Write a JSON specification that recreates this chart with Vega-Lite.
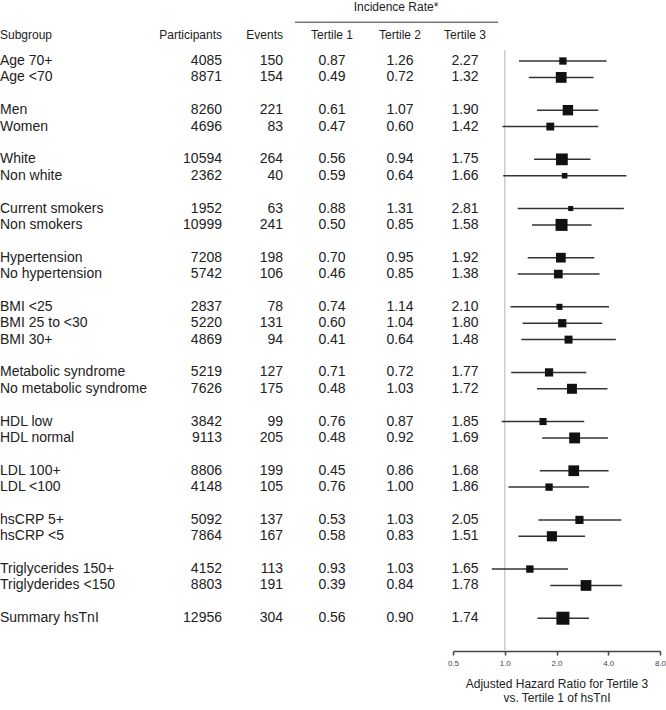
{
  "$schema": "https://vega.github.io/schema/vega-lite/v6.json",
  "padding": 0,
  "background": "white",
  "bounds": "flush",
  "spacing": 0,
  "config": {
    "view": {"stroke": null},
    "text": {"font": "Liberation Sans"},
    "axis": {"labelFont": "Liberation Sans", "titleFont": "Liberation Sans"}
  },
  "datasets": {
    "rows": [
      {"subgroup": "Age 70+", "participants": 4085, "events": 150, "t1": 0.87, "t2": 1.26, "t3": 2.27, "hr": 2.18, "lo": 1.21, "hi": 3.91},
      {"subgroup": "Age <70", "participants": 8871, "events": 154, "t1": 0.49, "t2": 0.72, "t3": 1.32, "hr": 2.13, "lo": 1.38, "hi": 3.29},
      {"subgroup": "Men", "participants": 8260, "events": 221, "t1": 0.61, "t2": 1.07, "t3": 1.90, "hr": 2.33, "lo": 1.54, "hi": 3.50},
      {"subgroup": "Women", "participants": 4696, "events": 83, "t1": 0.47, "t2": 0.60, "t3": 1.42, "hr": 1.84, "lo": 0.97, "hi": 3.50},
      {"subgroup": "White", "participants": 10594, "events": 264, "t1": 0.56, "t2": 0.94, "t3": 1.75, "hr": 2.15, "lo": 1.48, "hi": 3.15},
      {"subgroup": "Non white", "participants": 2362, "events": 40, "t1": 0.59, "t2": 0.64, "t3": 1.66, "hr": 2.23, "lo": 0.98, "hi": 5.10},
      {"subgroup": "Current smokers", "participants": 1952, "events": 63, "t1": 0.88, "t2": 1.31, "t3": 2.81, "hr": 2.42, "lo": 1.19, "hi": 4.93},
      {"subgroup": "Non smokers", "participants": 10999, "events": 241, "t1": 0.50, "t2": 0.85, "t3": 1.58, "hr": 2.14, "lo": 1.44, "hi": 3.20},
      {"subgroup": "Hypertension", "participants": 7208, "events": 198, "t1": 0.70, "t2": 0.95, "t3": 1.92, "hr": 2.12, "lo": 1.36, "hi": 3.32},
      {"subgroup": "No hypertension", "participants": 5742, "events": 106, "t1": 0.46, "t2": 0.85, "t3": 1.38, "hr": 2.05, "lo": 1.19, "hi": 3.56},
      {"subgroup": "BMI <25", "participants": 2837, "events": 78, "t1": 0.74, "t2": 1.14, "t3": 2.10, "hr": 2.08, "lo": 1.08, "hi": 4.04},
      {"subgroup": "BMI 25 to <30", "participants": 5220, "events": 131, "t1": 0.60, "t2": 1.04, "t3": 1.80, "hr": 2.16, "lo": 1.27, "hi": 3.69},
      {"subgroup": "BMI 30+", "participants": 4869, "events": 94, "t1": 0.41, "t2": 0.64, "t3": 1.48, "hr": 2.35, "lo": 1.25, "hi": 4.43},
      {"subgroup": "Metabolic syndrome", "participants": 5219, "events": 127, "t1": 0.71, "t2": 0.72, "t3": 1.77, "hr": 1.81, "lo": 1.09, "hi": 2.98},
      {"subgroup": "No metabolic syndrome", "participants": 7626, "events": 175, "t1": 0.48, "t2": 1.03, "t3": 1.72, "hr": 2.46, "lo": 1.54, "hi": 3.96},
      {"subgroup": "HDL low", "participants": 3842, "events": 99, "t1": 0.76, "t2": 0.87, "t3": 1.85, "hr": 1.67, "lo": 0.96, "hi": 2.90},
      {"subgroup": "HDL normal", "participants": 9113, "events": 205, "t1": 0.48, "t2": 0.92, "t3": 1.69, "hr": 2.55, "lo": 1.65, "hi": 3.98},
      {"subgroup": "LDL 100+", "participants": 8806, "events": 199, "t1": 0.45, "t2": 0.86, "t3": 1.68, "hr": 2.52, "lo": 1.60, "hi": 4.02},
      {"subgroup": "LDL <100", "participants": 4148, "events": 105, "t1": 0.76, "t2": 1.00, "t3": 1.86, "hr": 1.81, "lo": 1.05, "hi": 3.09},
      {"subgroup": "hsCRP 5+", "participants": 5092, "events": 137, "t1": 0.53, "t2": 1.03, "t3": 2.05, "hr": 2.72, "lo": 1.57, "hi": 4.76},
      {"subgroup": "hsCRP <5", "participants": 7864, "events": 167, "t1": 0.58, "t2": 0.83, "t3": 1.51, "hr": 1.88, "lo": 1.20, "hi": 2.93},
      {"subgroup": "Triglycerides 150+", "participants": 4152, "events": 113, "t1": 0.93, "t2": 1.03, "t3": 1.65, "hr": 1.40, "lo": 0.84, "hi": 2.33},
      {"subgroup": "Triglyderides <150", "participants": 8803, "events": 191, "t1": 0.39, "t2": 0.84, "t3": 1.78, "hr": 2.97, "lo": 1.84, "hi": 4.80},
      {"subgroup": "Summary hsTnI", "participants": 12956, "events": 304, "t1": 0.56, "t2": 0.90, "t3": 1.74, "hr": 2.18, "lo": 1.55, "hi": 3.09}
    ]
  },
  "data": {"name": "rows"},
  "hconcat": [
    {
      "width": 157, "height": 650,
      "encoding": {"x": {"datum": "Subgroup", "type": "nominal", "scale": {"type": "point", "padding": 0, "align": 0}, "axis": null}},
      "layer": [
        {"mark": {"type": "text", "align": "left", "baseline": "middle", "fontSize": 14, "color": "#222"},
         "encoding": {"y": {"field": "subgroup", "type": "nominal", "axis": null, "scale": {"type": "point", "padding": 0.3313, "align": 1, "domain": ["t3","t2","t1","Age 70+","Age <70","g1","Men","Women","g2","White","Non white","g3","Current smokers","Non smokers","g4","Hypertension","No hypertension","g5","BMI <25","BMI 25 to <30","BMI 30+","g6","Metabolic syndrome","No metabolic syndrome","g7","HDL low","HDL normal","g8","LDL 100+","LDL <100","g9","hsCRP 5+","hsCRP <5","g10","Triglycerides 150+","Triglyderides <150","g11","Summary hsTnI","b1","b2"]}},
          "text": {"field": "subgroup"}}},
        {"data": {"values": [{}]},
         "mark": {"type": "text", "align": "left", "baseline": "middle", "fontSize": 12, "color": "#222", "text": "Subgroup", "yOffset": 7},
         "encoding": {"y": {"datum": "t2", "type": "nominal"}}}
      ]
    },
    {
      "width": 65, "height": 650,
      "encoding": {"x": {"datum": "Participants", "type": "nominal", "scale": {"type": "point", "padding": 0, "align": 1}, "axis": null}},
      "layer": [
        {"mark": {"type": "text", "align": "right", "baseline": "middle", "fontSize": 14, "color": "#222"},
         "encoding": {"y": {"field": "subgroup", "type": "nominal", "axis": null, "scale": {"type": "point", "padding": 0.3313, "align": 1, "domain": ["t3","t2","t1","Age 70+","Age <70","g1","Men","Women","g2","White","Non white","g3","Current smokers","Non smokers","g4","Hypertension","No hypertension","g5","BMI <25","BMI 25 to <30","BMI 30+","g6","Metabolic syndrome","No metabolic syndrome","g7","HDL low","HDL normal","g8","LDL 100+","LDL <100","g9","hsCRP 5+","hsCRP <5","g10","Triglycerides 150+","Triglyderides <150","g11","Summary hsTnI","b1","b2"]}},
          "text": {"field": "participants", "type": "quantitative", "format": "d"}}},
        {"data": {"values": [{}]},
         "mark": {"type": "text", "align": "right", "baseline": "middle", "fontSize": 12, "color": "#222", "text": "Participants", "yOffset": 7},
         "encoding": {"y": {"datum": "t2", "type": "nominal"}}}
      ]
    },
    {
      "width": 61, "height": 650,
      "encoding": {"x": {"datum": "Events", "type": "nominal", "scale": {"type": "point", "padding": 0, "align": 1}, "axis": null}},
      "layer": [
        {"mark": {"type": "text", "align": "right", "baseline": "middle", "fontSize": 14, "color": "#222"},
         "encoding": {"y": {"field": "subgroup", "type": "nominal", "axis": null, "scale": {"type": "point", "padding": 0.3313, "align": 1, "domain": ["t3","t2","t1","Age 70+","Age <70","g1","Men","Women","g2","White","Non white","g3","Current smokers","Non smokers","g4","Hypertension","No hypertension","g5","BMI <25","BMI 25 to <30","BMI 30+","g6","Metabolic syndrome","No metabolic syndrome","g7","HDL low","HDL normal","g8","LDL 100+","LDL <100","g9","hsCRP 5+","hsCRP <5","g10","Triglycerides 150+","Triglyderides <150","g11","Summary hsTnI","b1","b2"]}},
          "text": {"field": "events", "type": "quantitative", "format": "d"}}},
        {"data": {"values": [{}]},
         "mark": {"type": "text", "align": "right", "baseline": "middle", "fontSize": 12, "color": "#222", "text": "Events", "yOffset": 7},
         "encoding": {"y": {"datum": "t2", "type": "nominal"}}}
      ]
    },
    {
      "width": 98, "height": 650,
      "layer": [
        {"mark": {"type": "text", "align": "center", "baseline": "middle", "fontSize": 14, "color": "#222"},
         "encoding": {"y": {"field": "subgroup", "type": "nominal", "axis": null, "scale": {"type": "point", "padding": 0.3313, "align": 1, "domain": ["t3","t2","t1","Age 70+","Age <70","g1","Men","Women","g2","White","Non white","g3","Current smokers","Non smokers","g4","Hypertension","No hypertension","g5","BMI <25","BMI 25 to <30","BMI 30+","g6","Metabolic syndrome","No metabolic syndrome","g7","HDL low","HDL normal","g8","LDL 100+","LDL <100","g9","hsCRP 5+","hsCRP <5","g10","Triglycerides 150+","Triglyderides <150","g11","Summary hsTnI","b1","b2"]}},
          "text": {"field": "t1", "type": "quantitative", "format": ".2f"}}},
        {"data": {"values": [{}]},
         "mark": {"type": "text", "align": "center", "baseline": "middle", "fontSize": 12, "color": "#222", "text": "Tertile 1", "yOffset": 7},
         "encoding": {"y": {"datum": "t2", "type": "nominal"}}},
        {"data": {"values": [{}]},
         "mark": {"type": "rule", "color": "#777", "strokeWidth": 1.5, "yOffset": -6, "xOffset": 12},
         "encoding": {
           "x": {"datum": "start", "type": "nominal", "scale": {"type": "point", "padding": 0, "domain": ["start", "end"]}, "axis": null},
           "x2": {"datum": "end"},
           "y": {"datum": "t2", "type": "nominal"}}}
      ]
    },
    {
      "width": 38, "height": 650,
      "layer": [
        {"mark": {"type": "text", "align": "center", "baseline": "middle", "fontSize": 14, "color": "#222"},
         "encoding": {"y": {"field": "subgroup", "type": "nominal", "axis": null, "scale": {"type": "point", "padding": 0.3313, "align": 1, "domain": ["t3","t2","t1","Age 70+","Age <70","g1","Men","Women","g2","White","Non white","g3","Current smokers","Non smokers","g4","Hypertension","No hypertension","g5","BMI <25","BMI 25 to <30","BMI 30+","g6","Metabolic syndrome","No metabolic syndrome","g7","HDL low","HDL normal","g8","LDL 100+","LDL <100","g9","hsCRP 5+","hsCRP <5","g10","Triglycerides 150+","Triglyderides <150","g11","Summary hsTnI","b1","b2"]}},
          "text": {"field": "t2", "type": "quantitative", "format": ".2f"}}},
        {"data": {"values": [{}]},
         "mark": {"type": "text", "align": "center", "baseline": "middle", "fontSize": 12, "color": "#222", "text": "Tertile 2", "yOffset": 7},
         "encoding": {"y": {"datum": "t2", "type": "nominal"}}},
        {"data": {"values": [{}]},
         "mark": {"type": "text", "align": "center", "baseline": "middle", "fontSize": 12, "color": "#222", "text": "Incidence Rate*", "yOffset": -5, "dx": -4},
         "encoding": {"y": {"datum": "t3", "type": "nominal"}}},
        {"data": {"values": [{}]},
         "mark": {"type": "rule", "color": "#777", "strokeWidth": 1.5, "yOffset": -6},
         "encoding": {"y": {"datum": "t2", "type": "nominal"}}}
      ]
    },
    {
      "width": 34, "height": 650,
      "layer": [
        {"mark": {"type": "text", "align": "center", "baseline": "middle", "fontSize": 14, "color": "#222", "dx": 29},
         "encoding": {"y": {"field": "subgroup", "type": "nominal", "axis": null, "scale": {"type": "point", "padding": 0.3313, "align": 1, "domain": ["t3","t2","t1","Age 70+","Age <70","g1","Men","Women","g2","White","Non white","g3","Current smokers","Non smokers","g4","Hypertension","No hypertension","g5","BMI <25","BMI 25 to <30","BMI 30+","g6","Metabolic syndrome","No metabolic syndrome","g7","HDL low","HDL normal","g8","LDL 100+","LDL <100","g9","hsCRP 5+","hsCRP <5","g10","Triglycerides 150+","Triglyderides <150","g11","Summary hsTnI","b1","b2"]}},
          "text": {"field": "t3", "type": "quantitative", "format": ".2f"}}},
        {"data": {"values": [{}]},
         "mark": {"type": "text", "align": "center", "baseline": "middle", "fontSize": 12, "color": "#222", "text": "Tertile 3", "yOffset": 7, "dx": 29},
         "encoding": {"y": {"datum": "t2", "type": "nominal"}}},
        {"data": {"values": [{}]},
         "mark": {"type": "rule", "color": "#777", "strokeWidth": 1.5, "yOffset": -6, "x2Offset": 45},
         "encoding": {
           "x": {"datum": "start", "type": "nominal", "scale": {"type": "point", "padding": 0, "domain": ["start", "end"]}, "axis": null},
           "x2": {"datum": "end"},
           "y": {"datum": "t2", "type": "nominal"}}}
      ]
    },
    {
      "width": 207, "height": 650,
      "layer": [
        {"data": {"values": [{}]},
         "mark": {"type": "rule", "color": "#cccccc", "strokeWidth": 1.5, "yOffset": 5.4},
         "encoding": {
           "x": {"datum": 1, "type": "quantitative",
                 "scale": {"type": "log", "base": 2, "domain": [0.5, 8], "nice": false, "zero": false},
                 "axis": {"values": [0.5, 1, 2, 4, 8], "format": ".1f", "grid": false, "labelFlush": false,
                          "labelFontSize": 8, "labelColor": "#444", "labelPadding": 4,
                          "domainColor": "#444", "domainWidth": 1.5, "tickColor": "#444", "tickWidth": 1.5, "tickSize": 4,
                          "title": ["Adjusted Hazard Ratio for Tertile 3", "vs. Tertile 1 of hsTnI"],
                          "titleFontSize": 12, "titleFontWeight": "normal", "titleColor": "#222", "titlePadding": 11, "titleLineHeight": 14}},
           "y": {"datum": "t1", "type": "nominal", "axis": null, "scale": {"type": "point", "padding": 0.3313, "align": 1, "domain": ["t3","t2","t1","Age 70+","Age <70","g1","Men","Women","g2","White","Non white","g3","Current smokers","Non smokers","g4","Hypertension","No hypertension","g5","BMI <25","BMI 25 to <30","BMI 30+","g6","Metabolic syndrome","No metabolic syndrome","g7","HDL low","HDL normal","g8","LDL 100+","LDL <100","g9","hsCRP 5+","hsCRP <5","g10","Triglycerides 150+","Triglyderides <150","g11","Summary hsTnI","b1","b2"]}},
           "y2": {"datum": "b2"}
         }},
        {"mark": {"type": "rule", "color": "#333", "strokeWidth": 1.5},
         "encoding": {
           "x": {"field": "lo", "type": "quantitative"},
           "x2": {"field": "hi"},
           "y": {"field": "subgroup", "type": "nominal"}
         }},
        {"mark": {"type": "square", "color": "#111", "opacity": 1},
         "encoding": {
           "x": {"field": "hr", "type": "quantitative"},
           "y": {"field": "subgroup", "type": "nominal"},
           "size": {"field": "participants", "type": "quantitative", "scale": {"domain": [0, 13000], "range": [0, 170]}, "legend": null}
         }}
      ]
    }
  ]
}
